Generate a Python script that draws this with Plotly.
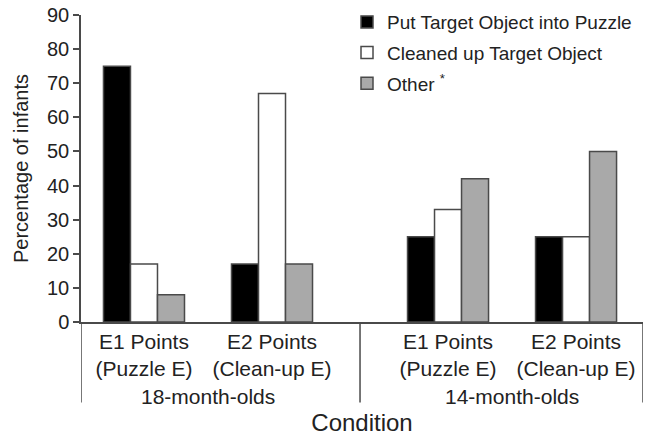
import plotly.graph_objects as go

# ---- data ----
conditions = ["E1 Points<br>(Puzzle E)", "E2 Points<br>(Clean-up E)",
              "E1 Points<br>(Puzzle E)", "E2 Points<br>(Clean-up E)"]
age_groups = ["18-month-olds", "14-month-olds"]
age_of_condition = [0, 0, 1, 1]
series_names = ["Put Target Object into Puzzle", "Cleaned up Target Object", "Other <sup>*</sup>"]
put_into_puzzle = [75, 17, 25, 25]
cleaned_up = [17, 67, 33, 25]
other = [8, 17, 42, 50]
y_ticks = [0, 10, 20, 30, 40, 50, 60, 70, 80, 90]

# ---- layout helpers ----
GROUP_GAP = 0.375
xpos = [i + GROUP_GAP * a for i, a in enumerate(age_of_condition)]
x_lo = xpos[0] - 0.492
x_hi = xpos[-1] + 0.523

FONT = "Liberation Sans, Arial, sans-serif"
TXT = "#222222"
LINE = "#4a4a4a"

fills = ["#000000", "#ffffff", "#a9a9a9"]
values = [put_into_puzzle, cleaned_up, other]

fig = go.Figure()
for name, vals, col in zip(series_names, values, fills):
    fig.add_trace(go.Bar(
        x=xpos, y=vals, name=name, legendgroup=name,
        marker=dict(color=col, line=dict(color=LINE, width=1.5)),
    ))

# divider lines below the axis
div_x = [x_lo]
for k in range(1, len(xpos)):
    if age_of_condition[k] != age_of_condition[k - 1]:
        div_x.append((xpos[k] + xpos[k - 1]) / 2)
div_x.append(x_hi)
shapes = [dict(type="line", xref="x", yref="paper", x0=d, x1=d, y0=0, y1=-0.262,
               line=dict(color=LINE, width=1.5)) for d in div_x]

annotations = []
for a, label in enumerate(age_groups):
    xs = [p for p, g in zip(xpos, age_of_condition) if g == a]
    annotations.append(dict(x=sum(xs) / len(xs), y=-0.244, xref="x", yref="paper",
                            yanchor="middle", xanchor="center",
                            text=label, showarrow=False,
                            font=dict(size=21, color=TXT, family=FONT)))

fig.update_layout(
    width=648, height=436,
    margin=dict(l=81, r=5, t=15, b=114, autoexpand=False),
    paper_bgcolor="white", plot_bgcolor="white",
    font=dict(family=FONT, color=TXT),
    barmode="group", bargap=0.367, bargroupgap=0,
    showlegend=True,
    legend=dict(xref="container", yref="container", x=0.5355, y=0.993,
                xanchor="left", yanchor="top",
                font=dict(size=19, color=TXT, family=FONT),
                bgcolor="rgba(0,0,0,0)", tracegroupgap=3,
                traceorder="grouped"),
    shapes=shapes,
    annotations=annotations,
)
fig.update_xaxes(
    range=[x_lo, x_hi], tickvals=xpos, ticktext=conditions,
    ticks="", showline=True, linecolor=LINE, linewidth=1.5,
    showgrid=False, zeroline=False, automargin=False,
    tickfont=dict(size=21, color=TXT, family=FONT),
    title=dict(text="Condition", font=dict(size=24, color=TXT, family=FONT), standoff=40),
)
fig.update_yaxes(
    range=[0, 90], tickvals=y_ticks, ticks="outside", ticklen=6, tickwidth=1.5,
    tickcolor=LINE, showline=True, linecolor=LINE, linewidth=1.5,
    showgrid=False, zeroline=False, automargin=False,
    tickfont=dict(size=20, color=TXT, family=FONT),
    title=dict(text="Percentage of infants", font=dict(size=20, color=TXT, family=FONT), standoff=13),
)

fig.write_html("out.html", config={"displayModeBar": False},
               post_script="document.body.style.margin='0px';")
